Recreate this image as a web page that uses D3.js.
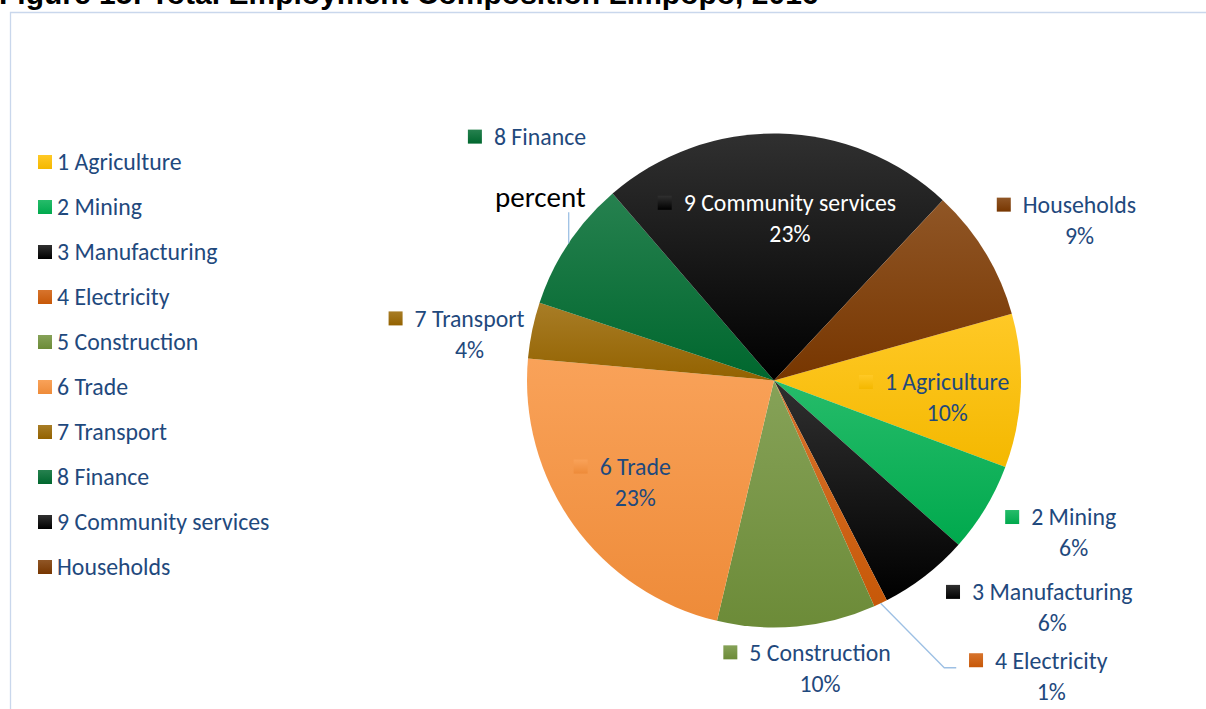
<!DOCTYPE html>
<html>
<head>
<meta charset="utf-8">
<script src="https://cdn.jsdelivr.net/npm/d3@7"></script>
<style>
  body { margin: 0; background: #fff; overflow: hidden; }
  svg { display: block; }
  .lbl { font-family: Carlito, Calibri, Lato, sans-serif; }
</style>
</head>
<body>
<svg id="chart" width="1206" height="709"></svg>
<script>
// data (shares in percent of total employment)
const categories = ['1 Agriculture', '2 Mining', '3 Manufacturing', '4 Electricity', '5 Construction',
  '6 Trade', '7 Transport', '8 Finance', '9 Community services', 'Households'];
const shares = [10.1, 5.9, 5.9, 0.9, 10.4, 22.8, 3.7, 8.6, 23.4, 8.7];
const colors = ['#ffc000', '#00b050', '#000000', '#d05c08', '#71913a',
  '#f8913c', '#996600', '#006b30', '#000000', '#7c3800'];
const showPercent = [true, true, true, true, true, true, true, false, true, true];

// where Excel left each data label: [angle in degrees clockwise from 12 o'clock, distance from centre]
const labelSpots = [[95.6, 174], [116.9, 336], [129.2, 359], [136.8, 405], [170.9, 291],
  [233.8, 172], [278.7, 308], [314.3, 327], [5.6, 163], [62.3, 345]];

const W = 1206, H = 709;
const cx = 774, cy = 380.5, R = 247;
const startDeg = 74.3;
const labelSize = 23.8;
const labelColor = '#1f497d';

const svg = d3.select('#chart');
const defs = svg.append('defs');

// slice gradients: lighter on top, base colour at the bottom
colors.forEach((c, i) => {
  const base = d3.color(c);
  const top = c === '#000000' ? d3.rgb(48, 48, 48) : d3.interpolateRgb(c, '#ffffff')(0.15);
  const grad = defs.append('linearGradient').attr('id', 'g' + i)
    .attr('x1', 0).attr('y1', 0).attr('x2', 0).attr('y2', 1);
  grad.append('stop').attr('offset', '0%').attr('stop-color', top);
  grad.append('stop').attr('offset', '100%').attr('stop-color', base.darker(0.12));
});

// title, cut by the top edge as in the source
svg.append('text')
  .attr('x', -1).attr('y', 4)
  .attr('font-family', 'Liberation Sans, Arial, sans-serif')
  .attr('font-weight', 'bold').attr('font-size', 30)
  .attr('fill', '#000')
  .text('Figure 15: Total Employment Composition Limpopo, 2016');

// chart frame
svg.append('path')
  .attr('d', `M10.5,${H}V12.5H${W}`)
  .attr('fill', 'none').attr('stroke', '#c9d7ec').attr('stroke-width', 1.3);

// legend
const legend = svg.append('g').attr('class', 'lbl');
categories.forEach((name, i) => {
  const y = 162 + i * 45;
  legend.append('rect').attr('x', 38).attr('y', y - 7).attr('width', 14).attr('height', 14)
    .attr('fill', `url(#g${i})`);
  legend.append('text').attr('x', 57).attr('y', y).attr('dy', '0.35em')
    .attr('font-size', labelSize).attr('fill', labelColor).text(name);
});

// pie
const pie = d3.pie().sort(null).value(d => d)
  .startAngle(startDeg * Math.PI / 180)
  .endAngle(startDeg * Math.PI / 180 + 2 * Math.PI);
const arcs = pie(shares);
const arc = d3.arc().innerRadius(0).outerRadius(R);
const total = d3.sum(shares);

const pieG = svg.append('g').attr('transform', `translate(${cx},${cy})`);
pieG.selectAll('path').data(arcs).join('path')
  .attr('d', arc)
  .attr('fill', (d, i) => `url(#g${i})`);

// leader lines (Finance and Electricity)
const leaders = pieG.append('g').attr('fill', 'none').attr('stroke', '#9dc0e4').attr('stroke-width', 1.3);
{
  const a = arcs[7], mid = (a.startAngle + a.endAngle) / 2;
  const p = d3.pointRadial(mid, R);
  leaders.append('path').attr('d', d3.line()([p, [p[0], p[1] - 31]]));
}
{
  const a = arcs[3], mid = (a.startAngle + a.endAngle) / 2;
  const p = d3.pointRadial(mid, R);
  const s = d3.pointRadial(labelSpots[3][0] * Math.PI / 180, labelSpots[3][1]);
  const end = [s[0] - 95, s[1] - 8];
  leaders.append('path').attr('d', d3.line()([p, [end[0] - 12, end[1]], end]));
}

// data labels
const labels = pieG.append('g').attr('class', 'lbl');
arcs.forEach((a, i) => {
  const [ang, dist] = labelSpots[i];
  const [x, y] = d3.pointRadial(ang * Math.PI / 180, dist);
  const fill = i === 8 ? '#ffffff' : labelColor;
  const nameY = y - 15.5;
  const t = labels.append('text').attr('x', x).attr('y', nameY).attr('dy', '0.35em')
    .attr('text-anchor', 'middle').attr('font-size', labelSize).attr('fill', fill)
    .text(categories[i]);
  const w = t.node().getComputedTextLength();
  labels.append('rect')
    .attr('x', x - w / 2 - 26).attr('y', nameY - 7).attr('width', 14).attr('height', 14)
    .attr('fill', `url(#g${i})`);
  if (showPercent[i]) {
    labels.append('text').attr('x', x).attr('y', y + 15.5).attr('dy', '0.35em')
      .attr('text-anchor', 'middle').attr('font-size', labelSize).attr('fill', fill)
      .text(Math.round(a.value / total * 100) + '%');
  }
});

// stray series name left over the Finance slice
svg.append('text').attr('class', 'lbl')
  .attr('x', 495).attr('y', 207)
  .attr('font-size', 29).attr('fill', '#000')
  .text('percent');
</script>
</body>
</html>
